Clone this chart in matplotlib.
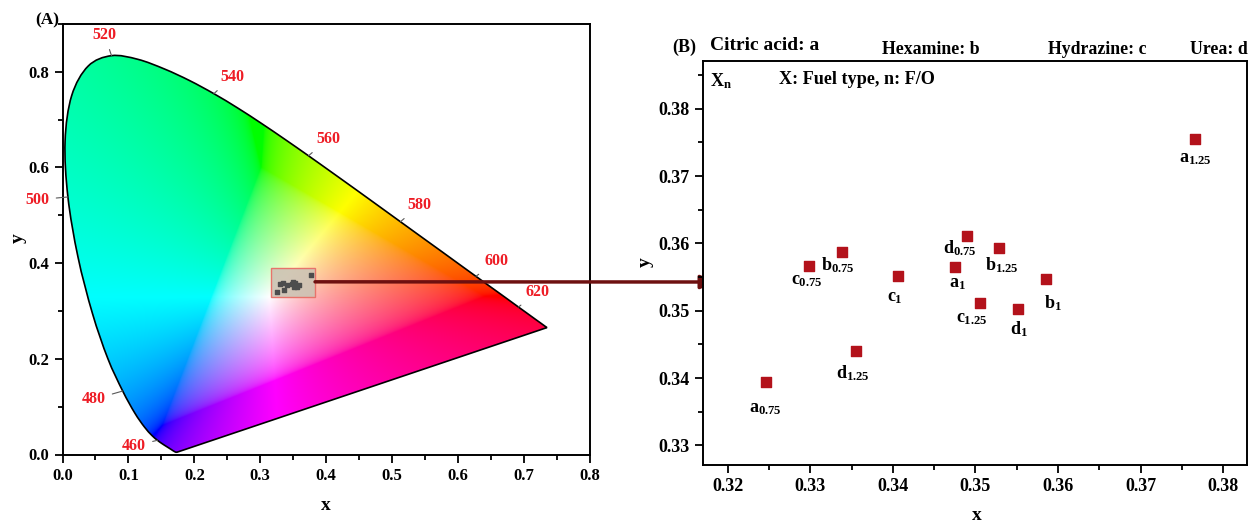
import matplotlib
matplotlib.use("Agg")
import matplotlib.pyplot as plt
import matplotlib.patches as mpatches
from matplotlib.path import Path
from matplotlib.ticker import MultipleLocator
import numpy as np

plt.rcParams["font.family"] = ["Liberation Serif", "DejaVu Serif"]
plt.rcParams["font.weight"] = "bold"
plt.rcParams["mathtext.fontset"] = "custom"
plt.rcParams["mathtext.rm"] = "Liberation Serif:bold"
plt.rcParams["mathtext.it"] = "Liberation Serif:bold"
plt.rcParams["mathtext.bf"] = "Liberation Serif:bold"

# CIE 1931 spectral locus, 5 nm steps 380-700 nm
locus_nm = list(range(380, 705, 5))
locus_x = [0.1741, 0.1740, 0.1738, 0.1736, 0.1733, 0.1730, 0.1726, 0.1721, 0.1714, 0.1703,
           0.1689, 0.1669, 0.1644, 0.1611, 0.1566, 0.1510, 0.1440, 0.1355, 0.1241, 0.1096,
           0.0913, 0.0687, 0.0454, 0.0235, 0.0082, 0.0039, 0.0139, 0.0389, 0.0743, 0.1142,
           0.1547, 0.1929, 0.2296, 0.2658, 0.3016, 0.3373, 0.3731, 0.4087, 0.4441, 0.4788,
           0.5125, 0.5448, 0.5752, 0.6029, 0.6270, 0.6482, 0.6658, 0.6801, 0.6915, 0.7006,
           0.7079, 0.7140, 0.7190, 0.7230, 0.7260, 0.7283, 0.7300, 0.7311, 0.7320, 0.7327,
           0.7334, 0.7340, 0.7344, 0.7346, 0.7347]
locus_y = [0.0050, 0.0050, 0.0049, 0.0049, 0.0048, 0.0048, 0.0048, 0.0048, 0.0051, 0.0058,
           0.0069, 0.0086, 0.0109, 0.0138, 0.0177, 0.0227, 0.0297, 0.0399, 0.0578, 0.0868,
           0.1327, 0.2007, 0.2950, 0.4127, 0.5384, 0.6548, 0.7502, 0.8120, 0.8338, 0.8262,
           0.8059, 0.7816, 0.7543, 0.7243, 0.6923, 0.6589, 0.6245, 0.5896, 0.5547, 0.5202,
           0.4866, 0.4544, 0.4242, 0.3965, 0.3725, 0.3514, 0.3340, 0.3197, 0.3083, 0.2993,
           0.2920, 0.2859, 0.2809, 0.2770, 0.2740, 0.2717, 0.2700, 0.2689, 0.2680, 0.2673,
           0.2666, 0.2660, 0.2656, 0.2654, 0.2653]

marked_nm = [460, 480, 500, 520, 540, 560, 580, 600, 620]
# label offsets from the locus, in points
marked_off = [(-17, -4), (-21, -6), (-22, -2), (-5, 15), (13, 12), (14, 12), (14, 12), (15, 11), (14, 11)]

# measured chromaticity points
pt_names = ["a_{0.75}", "c_{0.75}", "b_{0.75}", "d_{1.25}", "c_1", "a_1",
            "d_{0.75}", "b_{1.25}", "c_{1.25}", "d_1", "b_1", "a_{1.25}"]
pt_x = [0.3246, 0.3299, 0.3338, 0.3355, 0.3406, 0.3475, 0.3490, 0.3528, 0.3506, 0.3551, 0.3586, 0.3766]
pt_y = [0.3394, 0.3567, 0.3588, 0.3441, 0.3551, 0.3565, 0.3611, 0.3593, 0.3511, 0.3502, 0.3547, 0.3755]
pt_lbl_off = [(0, -19), (-2, -11), (-3, -10), (-2, -16), (-2, -15), (2, -12),
              (-5, -9), (2, -12), (-6, -11), (1, -14), (5, -17), (0, -14)]

W, H = 1248, 526
fig = plt.figure(figsize=(W / 100, H / 100), dpi=100)


def fpx(x, y):
    return x / W, 1 - y / H


def style_axes(ax, size):
    for s in ax.spines.values():
        s.set_linewidth(1.4)
    ax.tick_params(which="both", direction="out", top=False, right=False, width=1.3,
                   labelsize=size)
    ax.tick_params(which="major", length=6)
    ax.tick_params(which="minor", length=3.5)


def smooth_locus(xs, ys):
    # Catmull-Rom through the tabulated points, drawn as cubic Beziers, closed by the purple line
    p = np.column_stack([xs, ys])
    n = len(p)
    verts = [p[0]]
    codes = [Path.MOVETO]
    for i in range(n - 1):
        p0 = p[max(i - 1, 0)]
        p1, p2 = p[i], p[i + 1]
        p3 = p[min(i + 2, n - 1)]
        verts += [p1 + (p2 - p0) / 6, p2 - (p3 - p1) / 6, p2]
        codes += [Path.CURVE4] * 3
    verts += [p[0], p[0]]
    codes += [Path.LINETO, Path.CLOSEPOLY]
    return Path(verts, codes)


# ---------------- panel A ----------------
axA = fig.add_axes([62.5 / W, 71.5 / H, 527.5 / W, 430.5 / H])
axA.set_xlim(0, 0.8)
axA.set_ylim(0, 0.9)

gx = np.linspace(0.0, 0.8, 600)
gy = np.linspace(0.001, 0.9, 600)
XX, YY = np.meshgrid(gx, gy)
Xc = XX / YY
Zc = (1 - XX - YY) / YY
M = np.array([[3.2406, -1.5372, -0.4986],
              [-0.9689, 1.8758, 0.0415],
              [0.0557, -0.2040, 1.0570]])
rgb = np.stack([Xc, np.ones_like(Xc), Zc], axis=-1) @ M.T
neg = np.minimum(rgb.min(axis=-1, keepdims=True), 0)
rgb = rgb - 0.65 * neg
rgb = np.clip(rgb, 0, None)
rgb = rgb / rgb.max(axis=-1, keepdims=True)
rgb = np.where(rgb <= 0.0031308, 12.92 * rgb, 1.055 * rgb ** (1 / 2.4) - 0.055)
rgb = np.clip(rgb, 0, 1)

poly = mpatches.PathPatch(smooth_locus(locus_x, locus_y), facecolor="none",
                          edgecolor="black", lw=1.2, zorder=3)
axA.add_patch(poly)
im = axA.imshow(rgb, origin="lower", extent=(0, 0.8, 0.001, 0.9), aspect="auto",
                interpolation="bilinear", zorder=1)
im.set_clip_path(poly)

for nm, (dx, dy) in zip(marked_nm, marked_off):
    i = locus_nm.index(nm)
    axA.annotate(str(nm), xy=(locus_x[i], locus_y[i]), xytext=(dx, dy),
                 textcoords="offset points", ha="center", va="center",
                 color="#ee1c25", fontsize=11.5, annotation_clip=False,
                 arrowprops=dict(arrowstyle="-", color="0.35", lw=0.8, shrinkA=3, shrinkB=0))

axA.add_patch(mpatches.Rectangle((0.316, 0.329), 0.067, 0.061, facecolor=(0.80, 0.76, 0.70, 0.9),
                                 edgecolor="#e8736b", lw=1.0, zorder=4))
axA.scatter(pt_x, pt_y, marker="s", s=5, color="0.3", zorder=5)

axA.xaxis.set_minor_locator(MultipleLocator(0.05))
axA.yaxis.set_minor_locator(MultipleLocator(0.1))
style_axes(axA, 12)
axA.set_xticks(np.arange(0, 0.81, 0.1))
axA.set_xticklabels([f"{v:.1f}" for v in np.arange(0, 0.81, 0.1)])
axA.set_yticks(np.arange(0, 0.81, 0.2))
axA.set_yticklabels([f"{v:.1f}" for v in np.arange(0, 0.81, 0.2)])
fig.text(*fpx(326, 505), "x", ha="center", va="center", fontsize=14)
fig.text(*fpx(18, 238), "y", ha="center", va="center", fontsize=14, rotation=90)
fig.text(*fpx(59, 20), "(A)", ha="right", va="center", fontsize=12.5)

# ---------------- panel B ----------------
axB = fig.add_axes([703 / W, 61 / H, 544 / W, 404 / H])
axB.set_xlim(0.317, 0.3829)
axB.set_ylim(0.3271, 0.3871)
axB.scatter(pt_x, pt_y, marker="s", s=50, color="#b3121b", zorder=3)
for nm, x, y, (dx, dy) in zip(pt_names, pt_x, pt_y, pt_lbl_off):
    axB.annotate(f"${nm}$", xy=(x, y), xytext=(dx, dy), textcoords="offset points",
                 ha="center", va="center", fontsize=13)
axB.xaxis.set_major_locator(MultipleLocator(0.01))
axB.xaxis.set_minor_locator(MultipleLocator(0.005))
axB.yaxis.set_major_locator(MultipleLocator(0.01))
axB.yaxis.set_minor_locator(MultipleLocator(0.005))
style_axes(axB, 13)
axB.xaxis.set_major_formatter(plt.FormatStrFormatter("%.2f"))
axB.yaxis.set_major_formatter(plt.FormatStrFormatter("%.2f"))
fig.text(*fpx(977, 515), "x", ha="center", va="center", fontsize=14)
fig.text(*fpx(645, 262), "y", ha="center", va="center", fontsize=14, rotation=90)

fig.text(*fpx(684, 47), "(B)", ha="center", va="center", fontsize=13)
fig.text(*fpx(710, 46), "Citric acid: a", ha="left", va="center", fontsize=14)
fig.text(*fpx(882, 50), "Hexamine: b", ha="left", va="center", fontsize=12.8)
fig.text(*fpx(1048, 50), "Hydrazine: c", ha="left", va="center", fontsize=12.8)
fig.text(*fpx(1190, 50), "Urea: d", ha="left", va="center", fontsize=12.8)
fig.text(*fpx(710, 81), "X$_n$", ha="left", va="center", fontsize=13)
fig.text(*fpx(779, 80), "X: Fuel type, n: F/O", ha="left", va="center", fontsize=13.1)

# connecting arrow from the zoom box to panel B
axA.annotate("", xy=fpx(716, 282), xycoords="figure fraction",
             xytext=(0.383, 0.361), textcoords="data", annotation_clip=False,
             arrowprops=dict(arrowstyle="-|>,head_length=0.9,head_width=0.4",
                             color="#6e1010", lw=2.5, shrinkA=0, shrinkB=0), zorder=6)

fig.savefig("out.png", dpi=100)
